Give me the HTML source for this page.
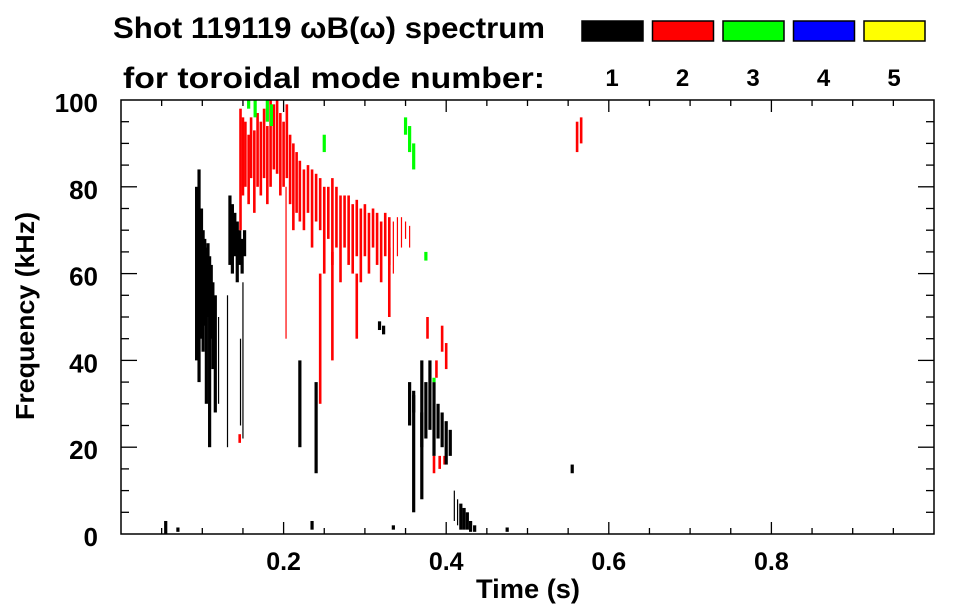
<!DOCTYPE html>
<html><head><meta charset="utf-8">
<style>
body{margin:0;background:#fff;}
svg{display:block;font-family:"Liberation Sans",sans-serif;font-weight:bold;}
</style></head>
<body>
<svg id="chart" width="963" height="615" viewBox="0 0 963 615">
<text x="113" y="38" font-size="30" textLength="432" lengthAdjust="spacingAndGlyphs">Shot 119119 ωB(ω) spectrum</text>
<text x="123" y="88" font-size="30" textLength="422" lengthAdjust="spacingAndGlyphs">for toroidal mode number:</text>
<g id="legend"></g>
<g id="marks"></g>
<rect x="121" y="100" width="813" height="434" fill="none" stroke="#000" stroke-width="1.5"/>
<g id="axes"></g>
<text x="528" y="598" font-size="27" text-anchor="middle" textLength="104" lengthAdjust="spacingAndGlyphs">Time (s)</text>
<text transform="translate(34,316) rotate(-90)" font-size="26" text-anchor="middle" textLength="208" lengthAdjust="spacingAndGlyphs">Frequency (kHz)</text>
</svg>
<script>
const modeColors=["#000000","#ff0000","#00ff00","#0000ff","#ffff00"];
const modeLabels=["1","2","3","4","5"];
const xTicks=[0.2,0.4,0.6,0.8];
const yTicks=[0,20,40,60,80,100];
// segments: time, fLow, fHigh, mode index (0=n1,1=n2,2=n3)
const segT=[.093,.096,.099,.101,.103,.105,.107,.109,.111,.113,.116,
.134,.137,.140,.143,.146,.149,.152,.120,.131,.147,.150,
.147,.150,.153,.157,.160,.164,.168,.172,.176,.180,.184,.188,.192,.196,.200,.204,.208,.212,.216,.220,
.225,.230,.235,.240,.245,.25,.255,.26,.265,.27,.275,.28,.285,.29,.295,.30,.305,.31,.315,.32,.325,.33,.335,.34,.345,.35,.355,
.203,.245,.26,.29,.33,.146,
.385,.392,.398,.40,.395,.388,.377,
.355,.36,.37,.375,.38,.385,.39,.395,.40,.405,.36,.37,
.41,.414,.418,.422,.426,.43,.435,
.323,.318,.055,.07,.22,.24,.235,.335,.475,.555,
.157,.165,.18,.185,.35,.355,.36,.375,.25,.385,
.561,.566];
const segF0=[40,35,45,42,48,30,50,20,45,38,28,
62,60,64,58,62,60,64,30,20,25,22,
70,78,80,76,82,74,80,78,82,76,80,84,83,78,80,82,76,70,74,72,
70,74,66,72,70,60,68,62,66,58,66,62,60,64,58,64,60,66,62,58,64,62,60,64,66,68,66,
45,30,40,45,50,21,
14,15,16,38,42,36,45,
25,28,20,22,24,18,22,20,16,18,5,8,
3,2,1,1,1,0.5,0.5,
46,47,0,0.5,20,14,1,1,0.5,14,
98,96,95,94,92,88,84,63,88,35,
88,90];
const segF1=[80,84,75,70,68,66,67,64,62,58,55,
78,76,74,72,70,68,70,50,55,45,58,
98,96,95,92,96,93,97,95,98,94,100,99,100,97,95,99,92,90,88,86,
84,85,84,83,82,80,80,82,80,78,78,78,76,77,75,76,74,75,74,72,74,73,72,73,73,72,71,
80,60,65,60,66,23,
18,18,18,44,48,40,50,
35,33,40,35,40,35,30,28,26,24,32,28,
10,8,7,6,5,3,2,
48,49,3,1.5,40,35,3,2,1.5,16,
100,100,100,99,96,94,90,65,92,36,
95,96];
const segMode=[0,0,0,0,0,0,0,0,0,0,0,
0,0,0,0,0,0,0,0,0,0,0,
1,1,1,1,1,1,1,1,1,1,1,1,1,1,1,1,1,1,1,1,
1,1,1,1,1,1,1,1,1,1,1,1,1,1,1,1,1,1,1,1,1,1,1,1,1,1,1,
1,1,1,1,1,1,
1,1,1,1,1,1,1,
0,0,0,0,0,0,0,0,0,0,0,0,
0,0,0,0,0,0,0,
0,0,0,0,0,0,0,0,0,0,
2,2,2,2,2,2,2,2,2,2,
1,1];
const thin=new Set([18,19,20,21,64,65,66,67,68,69,94,95]);
const X=t=>121+t*813, Y=f=>534-f*4.34;
const NS="http://www.w3.org/2000/svg";
const marks=document.getElementById('marks');
for(let i=0;i<segT.length;i++){
  const r=document.createElementNS(NS,'rect');
  
  
  const w=thin.has(i)?1.2:(segMode[i]===1?2.6:3.2);
  r.setAttribute('x',X(segT[i])-w/2);
  r.setAttribute('y',Y(segF1[i]));
  r.setAttribute('width',w);
  r.setAttribute('height',Math.max(1,Y(segF0[i])-Y(segF1[i])));
  r.setAttribute('fill',modeColors[segMode[i]]);
  marks.appendChild(r);
}
const legend=document.getElementById('legend');
for(let i=0;i<modeColors.length;i++){
  const x=582+i*70.5;
  const r=document.createElementNS(NS,'rect');
  
  
  r.setAttribute('x',x);r.setAttribute('y',21);r.setAttribute('width',61);r.setAttribute('height',20);
  r.setAttribute('fill',modeColors[i]);r.setAttribute('stroke','#000');r.setAttribute('stroke-width','1.5');
  legend.appendChild(r);
  const t=document.createElementNS(NS,'text');
  
  
  t.setAttribute('x',x+30);t.setAttribute('y',86);t.setAttribute('font-size','24');t.setAttribute('text-anchor','middle');
  t.textContent=modeLabels[i];
  legend.appendChild(t);
}
const axes=document.getElementById('axes');
function line(x1,y1,x2,y2,name){
  const l=document.createElementNS(NS,'line');
  
  
  l.setAttribute('x1',x1);l.setAttribute('y1',y1);l.setAttribute('x2',x2);l.setAttribute('y2',y2);
  l.setAttribute('stroke','#000');l.setAttribute('stroke-width','1.3');
  axes.appendChild(l);
}
for(let k=1;k<20;k++){
  const t=k*0.05, x=X(t), len=(k%4===0)?12:6;
  line(x,534,x,534-len,'x-tick');
  line(x,100,x,100+len,'x-tick-top');
}
for(let k=1;k<20;k++){
  const f=k*5, y=Y(f), len=(k%4===0)?16:8;
  line(121,y,121+len,y,'y-tick');
  line(934,y,934-len,y,'y-tick-right');
}
xTicks.forEach(v=>{
  const t=document.createElementNS(NS,'text');
  
  
  t.setAttribute('x',X(v));t.setAttribute('y',570);t.setAttribute('font-size','25');t.setAttribute('text-anchor','middle');
  t.textContent=v.toFixed(1);axes.appendChild(t);
});
yTicks.forEach(v=>{
  const t=document.createElementNS(NS,'text');
  
  
  t.setAttribute('x',98);t.setAttribute('y',Y(v)+12);t.setAttribute('font-size','26');t.setAttribute('text-anchor','end');
  t.textContent=v;axes.appendChild(t);
});
</script>
</body></html>
